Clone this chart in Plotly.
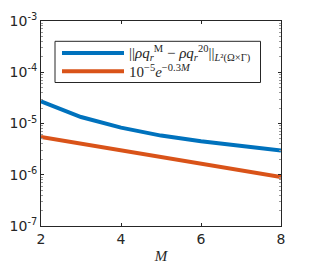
import numpy as np
import plotly.graph_objects as go

M = [2, 3, 4, 5, 6, 7, 8]
err = [2.71e-5, 1.34e-5, 8.32e-6, 5.81e-6, 4.50e-6, 3.71e-6, 2.96e-6]
ref = [5.49e-6, 4.07e-6, 3.01e-6, 2.23e-6, 1.65e-6, 1.22e-6, 9.07e-7]
x_ticks = [2, 4, 6, 8]
y_exps = [-7, -6, -5, -4, -3]
y_ticktext = ["10<sup>-%d</sup>" % (-e) for e in y_exps]
legend_labels = [
    "||<i>ρq</i><sub><i>r</i></sub><sup>M</sup> − <i>ρq</i><sub><i>r</i></sub><sup>20</sup>||<sub><i>L</i>²(Ω×Γ)</sub>",
    "10<sup>−5</sup><i>e</i><sup>−0.3<i>M</i></sup>",
]

BLUE = "#0072BD"
ORANGE = "#D95319"
AX = "#262626"

fig = go.Figure()
fig.add_trace(go.Scatter(x=M, y=err, mode="lines", line=dict(color=BLUE, width=4), showlegend=False))
fig.add_trace(go.Scatter(x=M, y=ref, mode="lines", line=dict(color=ORANGE, width=4), showlegend=False))

minor_vals = [m * 10.0 ** e for e in range(-7, -3) for m in range(2, 10)]

fig.update_layout(
    width=309, height=272,
    margin=dict(l=41, r=28, t=21, b=46, autoexpand=False),
    paper_bgcolor="white", plot_bgcolor="white",
    font=dict(family="DejaVu Sans", size=14, color=AX),
    xaxis=dict(range=[2, 8], tickvals=x_ticks, ticks="inside", ticklen=3, automargin=False,
               showline=True, linecolor=AX, linewidth=1, mirror="ticks",
               showgrid=False, zeroline=False, tickcolor=AX,
               title=dict(text="<i>M</i>", font=dict(family="Liberation Serif", size=15), standoff=4)),
    yaxis=dict(type="log", range=[-7, -3], tickvals=[10.0 ** e for e in y_exps], ticktext=y_ticktext,
               ticks="inside", ticklen=3, showline=True, linecolor=AX, linewidth=1, mirror="ticks",
               showgrid=False, zeroline=False, tickcolor=AX, automargin=False,
               minor=dict(tickvals=minor_vals, ticks="inside", ticklen=2, tickcolor="#999", showgrid=False)),
)


def px(xp):
    return (xp - 41) / 240.0


def py(yp):
    return (226 - yp) / 205.0


fig.add_shape(type="rect", xref="paper", yref="paper", x0=px(55), x1=px(260.5), y0=py(82.5), y1=py(41.3),
              line=dict(color=AX, width=1), fillcolor="white")
for i, (c, lab) in enumerate(zip([BLUE, ORANGE], legend_labels)):
    yy = [53, 71.3][i]
    fig.add_shape(type="line", xref="paper", yref="paper", x0=px(62), x1=px(124), y0=py(yy), y1=py(yy),
                  line=dict(color=c, width=4))
    fig.add_annotation(xref="paper", yref="paper", x=px(127), y=py(yy), xanchor="left", yanchor="middle",
                       text=lab, showarrow=False, font=dict(family="Liberation Serif", size=15, color=AX))

fig.write_html("out.html", config={"displayModeBar": False},
               post_script="document.body.style.margin='0';document.body.style.overflow='hidden';")
